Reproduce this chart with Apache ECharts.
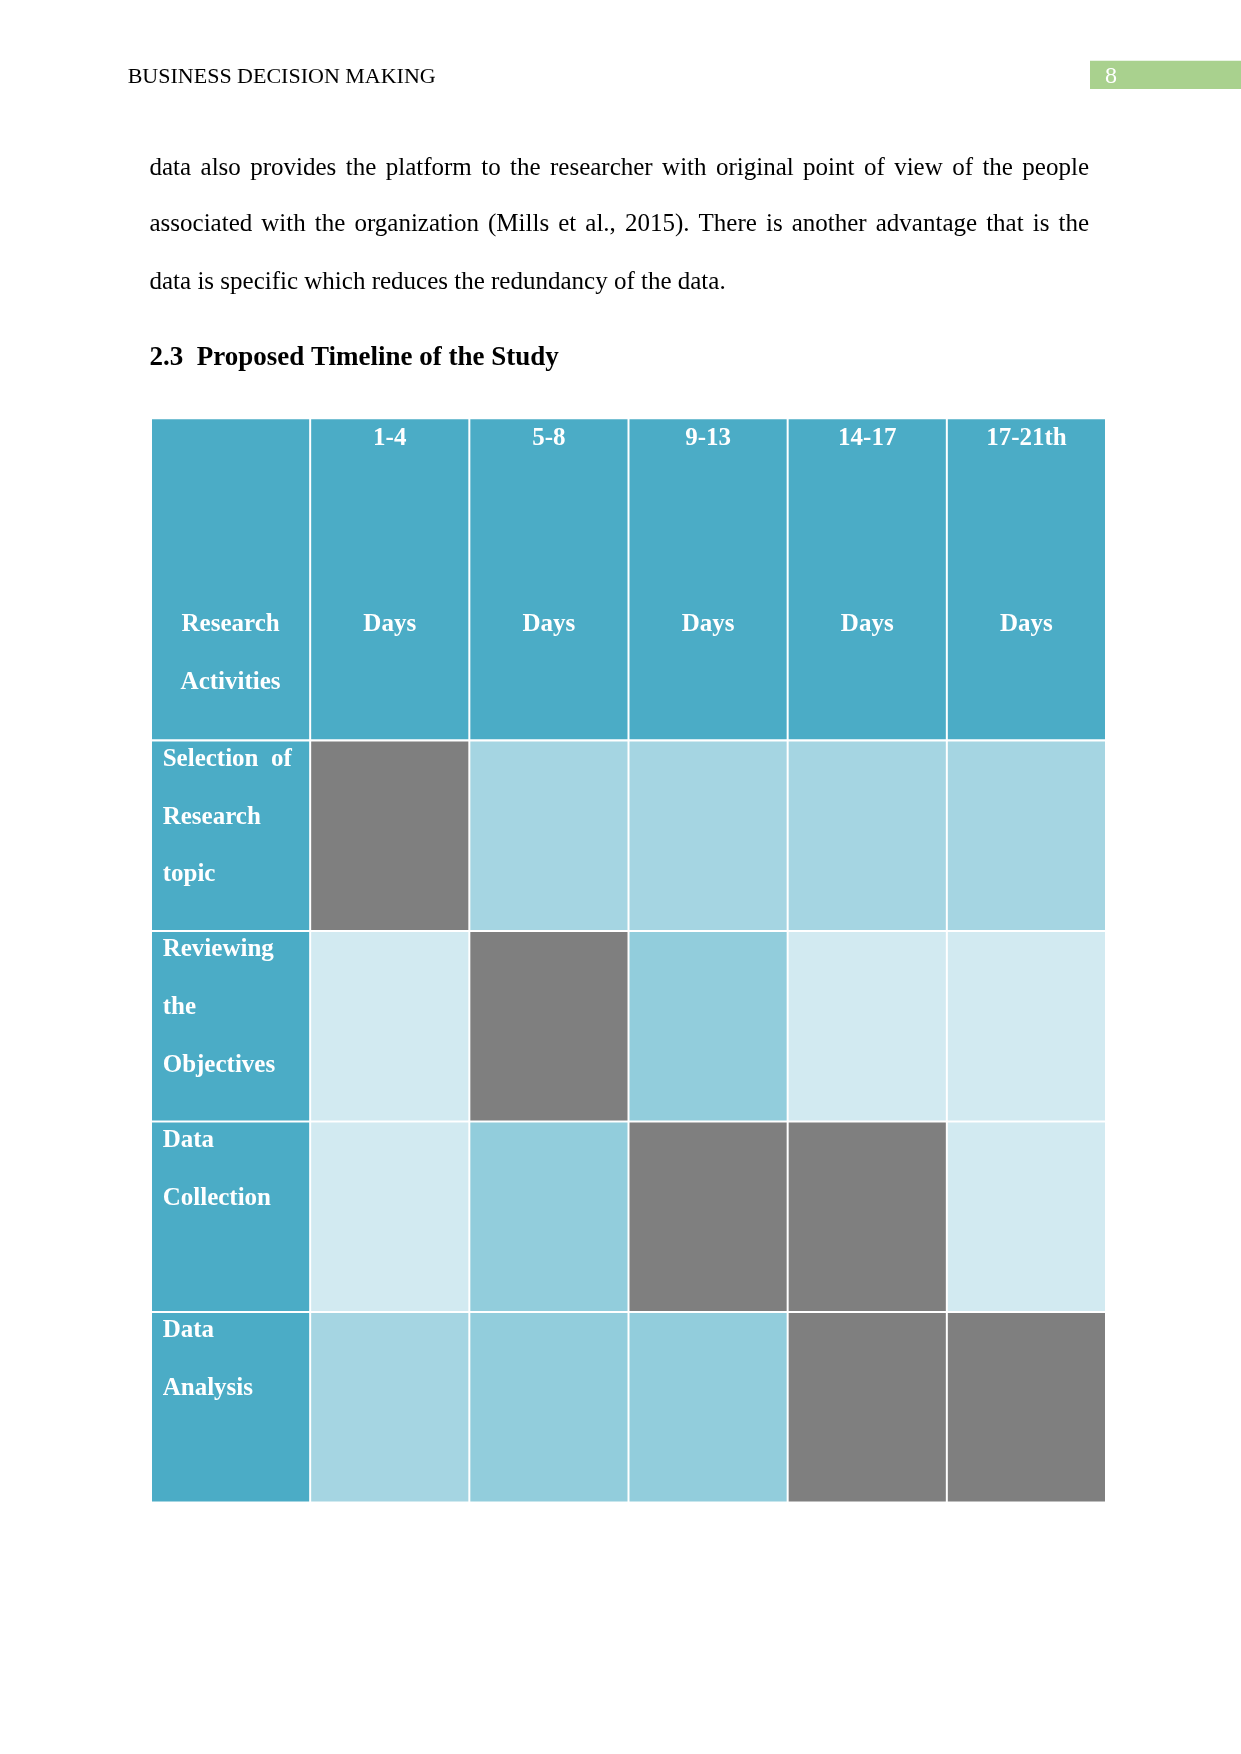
<!DOCTYPE html>
<html>
<head>
<meta charset="utf-8">
<title>Proposed Timeline of the Study</title>
<script src="https://cdn.jsdelivr.net/npm/echarts@6/dist/echarts.min.js"></script>
<style>
  html, body { margin: 0; padding: 0; background: #fff; }
  #main { width: 1241px; height: 1754px; }
</style>
</head>
<body>
<div id="main"></div>
<script>
// page text
const runningHead = 'BUSINESS DECISION MAKING'
const pageNo = '8'
const paragraph = [
  'data also provides the platform to the researcher with original point of view of the people',
  'associated with the organization (Mills et al., 2015). There is another advantage that is the',
  'data is specific which reduces the redundancy of the data.'
]
const heading = '2.3  Proposed Timeline of the Study'

// table content
const cornerLabel = ['Research', 'Activities']
const periods = ['1-4', '5-8', '9-13', '14-17', '17-21th']
const unit = 'Days'
const activities = [
  ['Selection  of', 'Research', 'topic'],
  ['Reviewing', 'the', 'Objectives'],
  ['Data', 'Collection'],
  ['Data', 'Analysis']
]
// 3 = activity runs in that period (grey), 0..2 = tint of an empty cell
const schedule = [
  [3, 1, 1, 1, 1],
  [0, 3, 2, 0, 0],
  [0, 2, 3, 3, 0],
  [1, 2, 2, 3, 3]
]

const headColor = '#4BACC6'
const shades = ['#D2EAF1', '#A5D5E2', '#92CDDC', '#7F7F7F']
const cellFont = 'bold 25px "Liberation Serif"'
const textFont = '25px "Liberation Serif"'

const xCats = ['activity'].concat(periods)
const headData = xCats.map((c, i) => [i, 0])
const bodyData = []
activities.forEach((a, r) => {
  bodyData.push([0, r, -1])
  schedule[r].forEach((v, c) => bodyData.push([c + 1, r, v]))
})

function cellBox(api, col, row) {
  const c = api.coord([col, row])
  const s = api.size([1, 1])
  return { x: c[0] - s[0] / 2, y: c[1] - s[1] / 2, w: s[0], h: s[1] }
}
function cellText(text, x, y, align) {
  return {
    type: 'text',
    style: { text: text, x: x, y: y, font: cellFont, fill: '#fff', textAlign: align, textVerticalAlign: 'middle' }
  }
}
function cellRect(b, fill) {
  return { type: 'rect', shape: { x: b.x + 1, y: b.y + 1, width: b.w - 2, height: b.h - 2 }, style: { fill: fill } }
}

// justified paragraph lines, one text element per word
const ctx = document.createElement('canvas').getContext('2d')
function paraLine(line, y, justify) {
  if (!justify) {
    return [{ type: 'text', x: 149.5, y: y, style: { text: line, font: textFont, fill: '#000', textVerticalAlign: 'middle' } }]
  }
  ctx.font = textFont
  const words = line.split(' ')
  const total = words.reduce((a, w) => a + ctx.measureText(w).width, 0)
  const gap = (939.5 - total) / (words.length - 1)
  let x = 149.5
  return words.map(w => {
    const el = { type: 'text', x: x, y: y, style: { text: w, font: textFont, fill: '#000', textVerticalAlign: 'middle' } }
    x += ctx.measureText(w).width + gap
    return el
  })
}

const graphics = [
  { type: 'text', x: 127.7, y: 76.8, style: { text: runningHead, font: '22px "Liberation Serif"', fill: '#000', textVerticalAlign: 'middle' } },
  { type: 'rect', shape: { x: 1090, y: 60.7, width: 151, height: 28.3 }, style: { fill: '#A9D18E' } },
  { type: 'text', x: 1111, y: 77, style: { text: pageNo, font: '24px "Liberation Serif"', fill: '#fff', textAlign: 'center', textVerticalAlign: 'middle' } },
  { type: 'text', x: 149.5, y: 358.2, style: { text: heading, font: 'bold 27px "Liberation Serif"', fill: '#000', textVerticalAlign: 'middle' } }
]
  .concat(paraLine(paragraph[0], 168, true))
  .concat(paraLine(paragraph[1], 224.8, true))
  .concat(paraLine(paragraph[2], 282, false))

const hiddenAxis = {
  axisLine: { show: false },
  axisTick: { show: false },
  axisLabel: { show: false },
  splitLine: { show: false }
}

const chart = echarts.init(document.getElementById('main'))
const option = {
  backgroundColor: '#fff',
  animation: false,
  graphic: graphics,
  grid: [
    { left: 151, top: 418.3, width: 955, height: 322 },
    { left: 151, top: 740.5, width: 955, height: 762 }
  ],
  xAxis: [
    Object.assign({ type: 'category', gridIndex: 0, data: xCats }, hiddenAxis),
    Object.assign({ type: 'category', gridIndex: 1, data: xCats }, hiddenAxis)
  ],
  yAxis: [
    Object.assign({ type: 'category', gridIndex: 0, data: ['head'] }, hiddenAxis),
    Object.assign({ type: 'category', gridIndex: 1, inverse: true, data: activities.map(a => a.join(' ')) }, hiddenAxis)
  ],
  series: [
    {
      type: 'custom',
      name: 'header',
      xAxisIndex: 0,
      yAxisIndex: 0,
      silent: true,
      data: headData,
      renderItem(params, api) {
        const col = api.value(0)
        const b = cellBox(api, col, 0)
        const cx = b.x + b.w / 2
        const texts = col === 0
          ? [cellText(cornerLabel[0], cx, b.y + 206.6, 'center'), cellText(cornerLabel[1], cx, b.y + 264.6, 'center')]
          : [cellText(periods[col - 1], cx, b.y + 19.8, 'center'), cellText(unit, cx, b.y + 206.6, 'center')]
        return { type: 'group', children: [cellRect(b, headColor)].concat(texts) }
      }
    },
    {
      type: 'custom',
      name: 'timeline',
      xAxisIndex: 1,
      yAxisIndex: 1,
      silent: true,
      data: bodyData,
      renderItem(params, api) {
        const col = api.value(0)
        const row = api.value(1)
        const b = cellBox(api, col, row)
        if (col === 0) {
          const texts = activities[row].map((t, i) => cellText(t, b.x + 11.7, b.y + 19 + i * 57.6, 'left'))
          return { type: 'group', children: [cellRect(b, headColor)].concat(texts) }
        }
        return cellRect(b, shades[api.value(2)])
      }
    }
  ]
}
chart.setOption(option)
</script>
</body>
</html>
